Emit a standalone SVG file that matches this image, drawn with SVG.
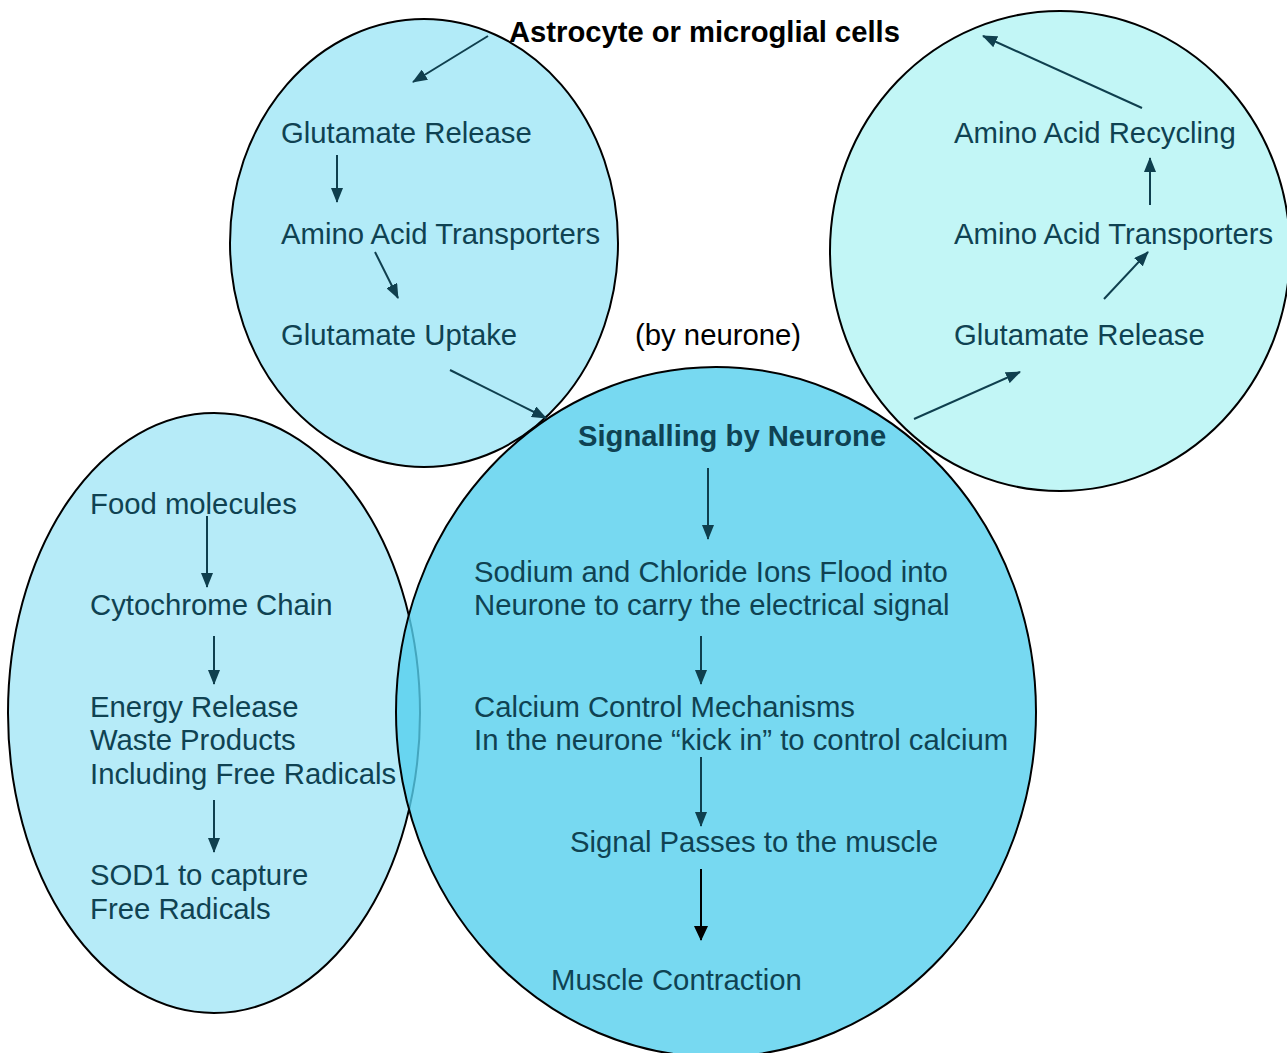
<svg xmlns="http://www.w3.org/2000/svg" width="1287" height="1053" viewBox="0 0 1287 1053">
<style>
.cell{stroke:#000;stroke-width:2}
.t{font-family:"Liberation Sans",Arial,sans-serif;font-size:29.3px;fill:#0f4252}
.b{font-weight:bold;font-size:29.2px}
.k{fill:#000}
.c{stroke:#0f3f4e;stroke-width:2;fill:none}
.ck{stroke:#000;stroke-width:2;fill:none}
</style>
<defs>
<marker id="ah" viewBox="0 0 15 12" refX="14" refY="6" markerWidth="15" markerHeight="12" markerUnits="userSpaceOnUse" orient="auto">
<path d="M0,0 L15,6 L0,12 Z" fill="#0f3f4e"/>
</marker>
<marker id="ahk" viewBox="0 0 15 14" refX="14" refY="7" markerWidth="15" markerHeight="14" markerUnits="userSpaceOnUse" orient="auto">
<path d="M0,0 L15,7 L0,14 Z" fill="#000"/>
</marker>
</defs>
<rect width="1287" height="1053" fill="#fff"/>
<g id="cells">
<ellipse class="cell" cx="214" cy="713" rx="206" ry="300" fill="#a9e8f7" fill-opacity="0.85"/>
<ellipse class="cell" cx="424" cy="243" rx="194" ry="224" fill="#b2ebf8"/>
<ellipse class="cell" cx="1060" cy="251" rx="230" ry="240" fill="#c2f6f6"/>
<ellipse class="cell" cx="716" cy="712" rx="320" ry="345" fill="#55cfee" fill-opacity="0.8"/>
</g>
<g id="connectors">
<line class="c" x1="488" y1="36" x2="413" y2="82" marker-end="url(#ah)"/>
<line class="c" x1="337" y1="155" x2="337" y2="202" marker-end="url(#ah)"/>
<line class="c" x1="375" y1="252" x2="398" y2="298" marker-end="url(#ah)"/>
<line class="c" x1="450" y1="370" x2="546" y2="418" marker-end="url(#ah)"/>
<line class="c" x1="1142" y1="108" x2="983" y2="36" marker-end="url(#ah)"/>
<line class="c" x1="1150" y1="205" x2="1150" y2="158" marker-end="url(#ah)"/>
<line class="c" x1="1104" y1="299" x2="1148" y2="252" marker-end="url(#ah)"/>
<line class="c" x1="914" y1="419" x2="1020" y2="372" marker-end="url(#ah)"/>
<line class="c" x1="708" y1="468" x2="708" y2="539" marker-end="url(#ah)"/>
<line class="c" x1="701" y1="636" x2="701" y2="684" marker-end="url(#ah)"/>
<line class="c" x1="701" y1="757" x2="701" y2="826" marker-end="url(#ah)"/>
<line class="ck" x1="701" y1="869" x2="701" y2="940" marker-end="url(#ahk)"/>
<line class="c" x1="207" y1="516" x2="207" y2="587" marker-end="url(#ah)"/>
<line class="c" x1="214" y1="636" x2="214" y2="684" marker-end="url(#ah)"/>
<line class="c" x1="214" y1="800" x2="214" y2="852" marker-end="url(#ah)"/>
</g>
<g id="title"><text class="t b k" x="509" y="42">Astrocyte or microglial cells</text></g>
<g id="tl-release"><text class="t" x="281" y="143">Glutamate Release</text></g>
<g id="tl-transporters"><text class="t" x="281" y="244">Amino Acid Transporters</text></g>
<g id="tl-uptake"><text class="t" x="281" y="345">Glutamate Uptake</text></g>
<g id="by-neurone"><text class="t k" x="635" y="345">(by neurone)</text></g>
<g id="tr-recycling"><text class="t" x="954" y="143">Amino Acid Recycling</text></g>
<g id="tr-transporters"><text class="t" x="954" y="244">Amino Acid Transporters</text></g>
<g id="tr-release"><text class="t" x="954" y="345">Glutamate Release</text></g>
<g id="signalling"><text class="t b" x="578" y="446">Signalling by Neurone</text></g>
<g id="sodium"><text class="t" x="474" y="582">Sodium and Chloride Ions Flood into</text><text class="t" x="474" y="615">Neurone to carry the electrical signal</text></g>
<g id="calcium"><text class="t" x="474" y="717">Calcium Control Mechanisms</text><text class="t" x="474" y="750">In the neurone “kick in” to control calcium</text></g>
<g id="signal-passes"><text class="t" x="570" y="852">Signal Passes to the muscle</text></g>
<g id="muscle"><text class="t" x="551" y="990">Muscle Contraction</text></g>
<g id="food"><text class="t" x="90" y="514">Food molecules</text></g>
<g id="cytochrome"><text class="t" x="90" y="615">Cytochrome Chain</text></g>
<g id="energy"><text class="t" x="90" y="717">Energy Release</text><text class="t" x="90" y="750">Waste Products</text><text class="t" x="90" y="784">Including Free Radicals</text></g>
<g id="sod1"><text class="t" x="90" y="885">SOD1 to capture</text><text class="t" x="90" y="919">Free Radicals</text></g>
</svg>
